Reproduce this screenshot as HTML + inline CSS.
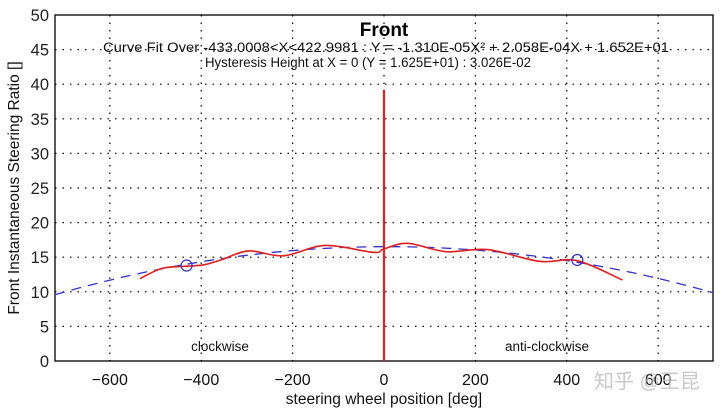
<!DOCTYPE html>
<html><head><meta charset="utf-8"><style>
body{margin:0;background:#fff;width:720px;height:412px;overflow:hidden}
svg text{font-family:"Liberation Sans","Noto Sans CJK SC",sans-serif}
</style></head><body>
<svg id="chart" width="720" height="412"></svg>
<script>
const xTicks=[-600,-400,-200,0,200,400,600];
const yTicks=[0,5,10,15,20,25,30,35,40,45,50];
const redX=[-534,-485,-432,-394,-357,-296,-220,-129,-23,0,52,136,227,340,423,522];
const redY=[11.9,13.4,13.7,13.9,14.6,15.9,15.2,16.7,15.7,16.2,17.0,15.8,16.1,14.4,14.5,11.7];
const fitCoef=[16.52,2.058e-4,-1.310e-5];
const fitRange=[-720,720];
const markerX=[-432,423];
const markerY=[13.8,14.6];
const vertLine=[0,0,39.2];

const L=55,R=713,T=15,B=361;
const sx=v=>L+(v+720)/1440*(R-L);
const sy=v=>B-v/50*(B-T);
const svg=document.getElementById('chart');
const NS='http://www.w3.org/2000/svg';
function mk(tag,attrs,parent){const e=document.createElementNS(NS,tag);for(const k in attrs)e.setAttribute(k,attrs[k]);(parent||svg).appendChild(e);return e;}

const grid=mk('g',{});


xTicks.forEach(t=>{
  const l=mk('line',{x1:sx(t),x2:sx(t),y1:T,y2:B,stroke:'#000','stroke-width':1.2,'stroke-dasharray':'1.5 6'},grid);
  
  
  const tx=mk('text',{x:sx(t),y:B+24,'text-anchor':'middle','font-size':16,fill:'#111'});
  tx.textContent=(t<0?'\u2212'+(-t):t);
  
  
});
yTicks.forEach(t=>{
  if(t>0&&t<50){const l=mk('line',{x1:L,x2:R,y1:sy(t),y2:sy(t),stroke:'#000','stroke-width':1.2,'stroke-dasharray':'1.5 6'},grid);
  
  }
  const tx=mk('text',{x:L-6,y:sy(t)+6,'text-anchor':'end','font-size':16.5,fill:'#222'});
  tx.textContent=t;
  
  
});
const frame=mk('rect',{x:L,y:T,width:R-L,height:B-T,fill:'none',stroke:'#000','stroke-width':1.3});



let d='';
for(let x=fitRange[0];x<=fitRange[1];x+=10){const y=fitCoef[0]+fitCoef[1]*x+fitCoef[2]*x*x;d+=(d?'L':'M')+sx(x).toFixed(1)+','+sy(y).toFixed(1);}
const fit=mk('path',{d:d,fill:'none',stroke:'#3333cc','stroke-width':1.3,'stroke-dasharray':'10 7'});



const pts=redX.map((x,i)=>[sx(x),sy(redY[i])]);
let rd='M'+pts[0][0]+','+pts[0][1];
for(let i=0;i<pts.length-1;i++){const p0=pts[i-1]||pts[i],p1=pts[i],p2=pts[i+1],p3=pts[i+2]||p2;
rd+='C'+(p1[0]+(p2[0]-p0[0])/6)+','+(p1[1]+(p2[1]-p0[1])/6)+' '+(p2[0]-(p3[0]-p1[0])/6)+','+(p2[1]-(p3[1]-p1[1])/6)+' '+p2[0]+','+p2[1];}
const red=mk('path',{d:rd,fill:'none',stroke:'#e02020','stroke-width':1.6});


const vl=mk('line',{x1:sx(vertLine[0]),x2:sx(vertLine[0]),y1:sy(vertLine[1]),y2:sy(vertLine[2]),stroke:'#e02020','stroke-width':2.2});


markerX.forEach((x,i)=>{const c=mk('circle',{cx:sx(x),cy:sy(markerY[i]),r:5.5,fill:'none',stroke:'#3333cc','stroke-width':1.2});

});

function txt(s,attrs,name){const t=mk('text',attrs);t.textContent=s;return t;}
txt('Front',{x:384,y:36,'text-anchor':'middle','font-size':19,'font-weight':'bold',fill:'#000'},'chart-title');
txt('Curve Fit Over -433.0008<X<422.9981 : Y = -1.310E-05X\u00b2 + 2.058E-04X + 1.652E+01',{x:103,y:52,'font-size':13.5,fill:'#111',textLength:566,lengthAdjust:'spacingAndGlyphs'},'fit-equation');
txt('Hysteresis Height at X = 0 (Y = 1.625E+01) : 3.026E-02',{x:205,y:67,'font-size':13.5,fill:'#111',textLength:326,lengthAdjust:'spacingAndGlyphs'},'hysteresis-text');
txt('clockwise',{x:220,y:351,'text-anchor':'middle','font-size':13.5,fill:'#111'},'clockwise-label');
txt('anti-clockwise',{x:547,y:351,'text-anchor':'middle','font-size':13.5,fill:'#111'},'anticlockwise-label');
txt('steering wheel position [deg]',{x:384,y:404,'text-anchor':'middle','font-size':15.5,fill:'#111'},'x-axis-title');
txt('Front Instantaneous Steering Ratio []',{x:0,y:0,'text-anchor':'middle','font-size':15.5,fill:'#111',transform:'translate(19,188) rotate(-90)'},'y-axis-title');
txt('知乎 @王昆',{x:594,y:388,'font-size':20,fill:'#bbb','fill-opacity':0.8},'watermark');
</script>
</body></html>
